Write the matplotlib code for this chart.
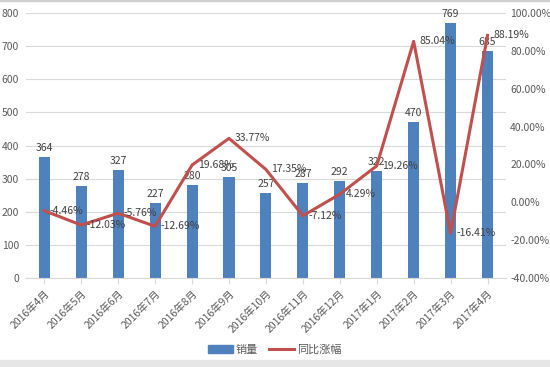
import numpy as np
import matplotlib.pyplot as plt
from matplotlib.patches import Rectangle
from matplotlib.lines import Line2D

plt.rcParams['font.family'] = ['Noto Sans CJK SC', 'DejaVu Sans']

months = ["2016年4月", "2016年5月", "2016年6月", "2016年7月", "2016年8月", "2016年9月",
          "2016年10月", "2016年11月", "2016年12月", "2017年1月", "2017年2月",
          "2017年3月", "2017年4月"]
sales = [364, 278, 327, 227, 280, 305, 257, 287, 292, 322, 470, 769, 685]
yoy = [-4.46, -12.03, -5.76, -12.69, 19.68, 33.77, 17.35, -7.12, 4.29, 19.26,
       85.04, -16.41, 88.19]

BLUE = '#4F81BD'
RED = '#C0504D'
GRAY = '#595959'

fig = plt.figure(figsize=(5.5, 3.67), dpi=100)
ax = fig.add_axes([0.047, 0.2425, 0.873, 0.722])
ax2 = ax.twinx()

x = np.arange(len(months))
ax.bar(x, sales, width=0.3, color=BLUE, zorder=2)
for xi, v in zip(x, sales):
    ax.text(xi, v + 12, str(v), ha='center', va='bottom', fontsize=7.5, color='#404040')

ax.set_ylim(0, 800)
ax.set_yticks(range(0, 801, 100))
ax.set_xlim(-0.5, len(months) - 0.5)
ax.set_xticks(x)
ax.set_xticklabels(months, rotation=45, ha='right', rotation_mode='anchor')
ax.grid(axis='y', color='#D9D9D9', linewidth=0.8, zorder=0)
ax.set_axisbelow(True)

ax2.plot(x, yoy, color=RED, linewidth=2.2, zorder=3)
for xi, v in zip(x, yoy):
    ax2.text(xi + 0.15, v, f"{v:.2f}%", ha='left', va='center', fontsize=7.5, color='#404040')
ax2.set_ylim(-40, 100)
ax2.set_yticks(range(-40, 101, 20))
ax2.set_yticklabels([f"{t:.2f}%" for t in range(-40, 101, 20)])

for a in (ax, ax2):
    for s in a.spines.values():
        s.set_visible(False)
    a.tick_params(axis='y', length=0, labelsize=7.5, colors=GRAY)
ax.spines['bottom'].set_visible(True)
ax.spines['bottom'].set_color('#D9D9D9')
ax.tick_params(axis='x', length=4, color='#D9D9D9', labelsize=7.5, labelcolor=GRAY)
ax.tick_params(axis='y', pad=5)
ax2.tick_params(axis='y', pad=3)

handles = [Rectangle((0, 0), 1, 1, color=BLUE), Line2D([0], [0], color=RED, linewidth=2.2)]
fig.legend(handles, ["销量", "同比涨幅"], loc='center', bbox_to_anchor=(0.5, 0.047),
           ncol=2, frameon=False, fontsize=8, handlelength=2.2, handleheight=0.7,
           columnspacing=1.0, handletextpad=0.3, labelcolor=GRAY)

fig.patches.append(Rectangle((0, 0), 1, 0.018, transform=fig.transFigure, color='#E6E6E6', zorder=0))
fig.patches.append(Rectangle((0, 0.996), 1, 0.004, transform=fig.transFigure, color='#D0D0D0', zorder=0))

fig.savefig("out.png", dpi=100)
